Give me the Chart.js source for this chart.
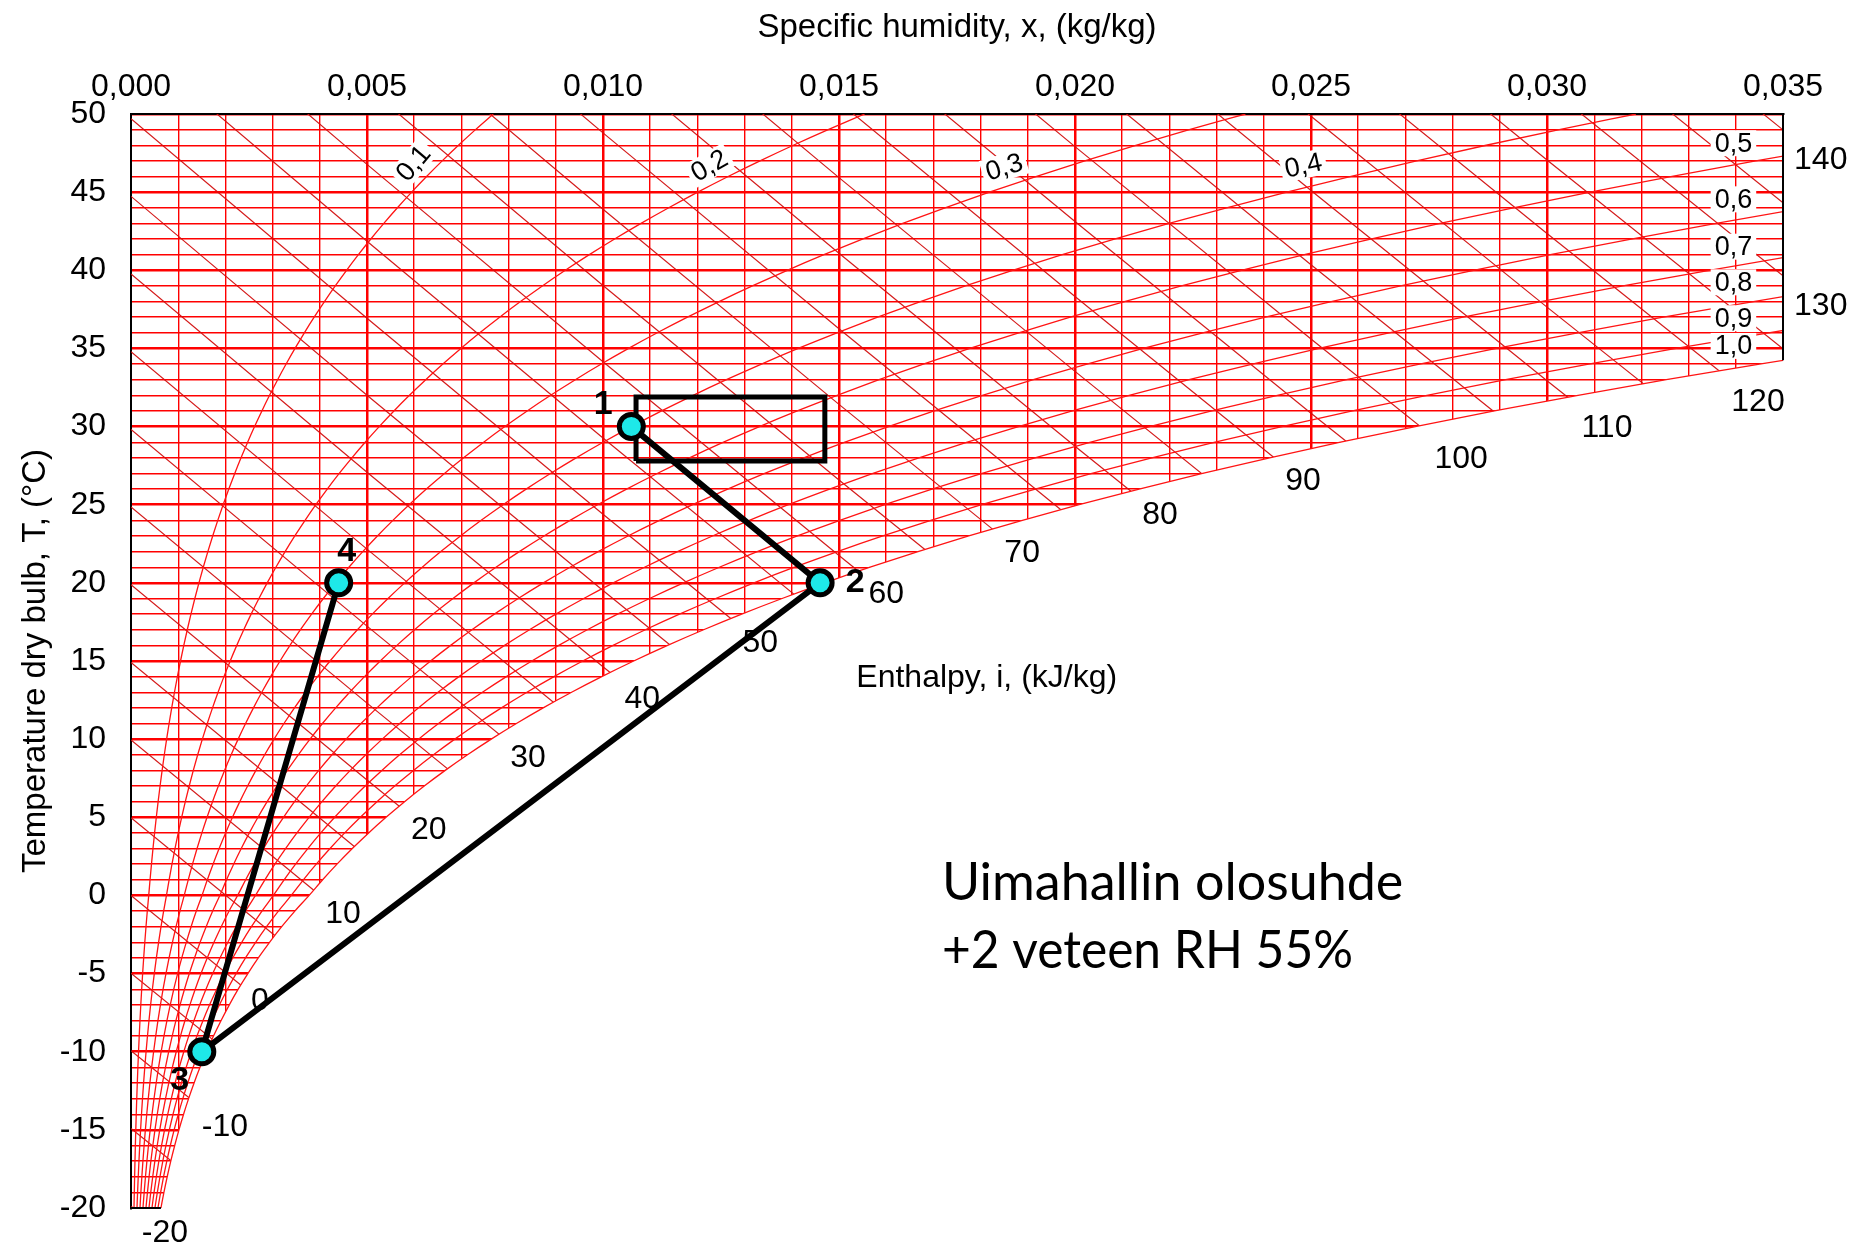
<!DOCTYPE html>
<html>
<head>
<meta charset="utf-8">
<title>Psykrometrinen kaavio</title>
<script src="https://cdn.jsdelivr.net/npm/chart.js@4.4.1/dist/chart.umd.min.js"></script>
<style>
  html, body { margin: 0; padding: 0; background: #fff; }
  #wrap { width: 1853px; height: 1253px; }
</style>
</head>
<body>
<div id="wrap"><canvas id="chart" width="1853" height="1253"></canvas></div>
<script>
// ---- Chart data -----------------------------------------------------------

// Saturation vapour pressure of water (kPa) from -20 °C to 50 °C in 1 °C steps
// (over ice below 0 °C).
const satStartT = -20;
const satPressure = [
  0.1032, 0.1135, 0.1248, 0.1371, 0.1506, 0.1652, 0.1811, 0.1984, 0.2172, 0.2376,
  0.2599, 0.2839, 0.3100, 0.3382, 0.3686, 0.4017, 0.4374, 0.4759, 0.5174, 0.5623,
  0.6112, 0.6571, 0.7060, 0.7581, 0.8135, 0.8726, 0.9354, 1.0021, 1.0730, 1.1482,
  1.2282, 1.3129, 1.4028, 1.4981, 1.5990, 1.7058, 1.8188, 1.9384, 2.0647, 2.1983,
  2.3393, 2.4882, 2.6453, 2.8111, 2.9858, 3.1699, 3.3639, 3.5681, 3.7831, 4.0092,
  4.2470, 4.4969, 4.7596, 5.0354, 5.3251, 5.6290, 5.9479, 6.2823, 6.6328, 7.0002,
  7.3849, 7.7878, 8.2096, 8.6508, 9.1124, 9.5950, 10.099, 10.627, 11.177, 11.752,
  12.352
];
const airPressure = 101.325; // kPa

// Relative humidity curves and their labels
const rhLevels = [0.1, 0.2, 0.3, 0.4, 0.5, 0.6, 0.7, 0.8, 0.9, 1.0];
const rhLabels = ['0,1', '0,2', '0,3', '0,4', '0,5', '0,6', '0,7', '0,8', '0,9', '1,0'];
const rhLabelX = [0.00598, 0.01225, 0.0185, 0.02484, 0.03395, 0.03395, 0.03395, 0.03395, 0.03395, 0.03395];
const rhLabelT = [46.85, 46.7, 46.6, 46.7, 48.13, 44.54, 41.51, 39.23, 36.93, 35.16];
const rhLabelAngle = [-50, -30, -17, -12, 0, 0, 0, 0, 0, 0];

// Constant enthalpy lines (kJ/kg) and their labels
const enthalpyLevels = [-20, -15, -10, -5, 0, 5, 10, 15, 20, 25, 30, 35, 40, 45, 50, 55, 60, 65,
  70, 75, 80, 85, 90, 95, 100, 105, 110, 115, 120, 125, 130, 135, 140];
const enthalpyLineX = [0, 0.005, 0.01, 0.015, 0.02, 0.025, 0.03, 0.035, 0.04];
const enthalpyLabels = [-20, -10, 0, 10, 20, 30, 40, 50, 60, 70, 80, 90, 100, 110, 120, 130, 140];
const enthalpyLabelX = [0.00072, 0.00199, 0.00273, 0.00449, 0.00631, 0.00841, 0.01083, 0.01333,
  0.0160, 0.01888, 0.0218, 0.02483, 0.02818, 0.03127, 0.03447, 0.0358, 0.0358];

// Air states of the process and the comfort zone
const stateNames = ['1', '2', '3', '4'];
const stateX = [0.0106, 0.0146, 0.0015, 0.0044];
const stateT = [30, 20, -10, 20];
const zoneX = [0.0107, 0.0147];
const zoneT = [27.8, 31.9];

// Note text
const noteLines = ['Uimahallin olosuhde', '+2 veteen RH 55%'];
const noteX = [0.01718, 0.02701, 0.02589]; // left edge, right edge of each line
const noteT = [-0.29, -4.64];              // baselines

// Axis ranges
const xRange = [0, 0.035];
const tRange = [-20, 50];

// ---- Psychrometric helpers ------------------------------------------------
const humidityRatio = pv => 0.622 * pv / (airPressure - pv);
const enthalpyTemp = (i, x) => (i - 2501 * x) / (1.006 + 1.86 * x);

const rhCurve = phi => satPressure.map((p, k) => ({ x: humidityRatio(phi * p), y: satStartT + k }));
const satCurve = rhCurve(1.0);

// temperature where the saturation curve meets a given humidity
function satTempAt(xv) {
  for (let k = 0; k < satCurve.length - 1; k++) {
    const a = satCurve[k], b = satCurve[k + 1];
    if (a.x <= xv && b.x >= xv) return a.y + (xv - a.x) / (b.x - a.x) * (b.y - a.y);
  }
  return tRange[1];
}

const FONT = '"Liberation Sans", Arial, Helvetica, sans-serif';
const RED = '#ff0000';

const datasets = [];

enthalpyLevels.forEach(i => {
  datasets.push({
    data: enthalpyLineX.map(x => ({ x, y: enthalpyTemp(i, x) })),
    borderColor: 'rgba(210,15,15,0.95)', borderWidth: 1.2, order: 50
  });
});

// white area under the saturation curve (fog region is left empty)
datasets.push({
  data: satCurve, borderWidth: 0, borderColor: 'rgba(0,0,0,0)',
  backgroundColor: '#ffffff', fill: 'start', cubicInterpolationMode: 'monotone', order: 40
});

rhLevels.forEach(phi => {
  datasets.push({
    data: rhCurve(phi), borderColor: 'rgba(255,20,20,1)', borderWidth: 1.3,
    cubicInterpolationMode: 'monotone', order: 30
  });
});

// closing edges of the chart frame
datasets.push({
  data: [{ x: xRange[0], y: tRange[0] }, { x: satCurve[0].x, y: tRange[0] }],
  borderColor: '#000', borderWidth: 2, clip: false, order: 20
});
datasets.push({
  data: [{ x: xRange[1], y: tRange[1] }, { x: xRange[1], y: satTempAt(xRange[1]) }],
  borderColor: '#000', borderWidth: 2, clip: false, order: 20
});

// comfort zone rectangle
datasets.push({
  data: [
    { x: zoneX[0], y: zoneT[0] }, { x: zoneX[1], y: zoneT[0] }, { x: zoneX[1], y: zoneT[1] },
    { x: zoneX[0], y: zoneT[1] }, { x: zoneX[0], y: zoneT[0] }
  ],
  borderColor: '#000', borderWidth: 5, borderJoinStyle: 'miter', order: 10
});

// process path 1 -> 2 -> 3 -> 4
datasets.push({
  data: stateX.map((x, k) => ({ x, y: stateT[k] })),
  borderColor: '#000', borderWidth: 6,
  pointRadius: 12, pointBackgroundColor: '#1ee8e8', pointBorderColor: '#000', pointBorderWidth: 5,
  order: 5
});

datasets.forEach(d => {
  d.showLine = true;
  if (d.pointRadius === undefined) d.pointRadius = 0;
  if (d.fill === undefined) d.fill = false;
});

const stateLabelOffset = [[-28, -22], [35, 0], [-22, 29], [8, -31]];

const overlay = {
  id: 'overlay',
  afterDatasetsDraw(chart) {
    const { ctx } = chart;
    const sx = chart.scales.x, sy = chart.scales.y;
    const px = v => sx.getPixelForValue(v);
    const py = v => sy.getPixelForValue(v);
    ctx.save();

    // relative humidity labels on white boxes
    ctx.font = '27px ' + FONT;
    ctx.textAlign = 'center';
    ctx.textBaseline = 'middle';
    rhLabels.forEach((t, k) => {
      ctx.save();
      ctx.translate(px(rhLabelX[k]), py(rhLabelT[k]));
      ctx.rotate(rhLabelAngle[k] * Math.PI / 180);
      const w = ctx.measureText(t).width;
      ctx.fillStyle = '#fff';
      ctx.fillRect(-w / 2 - 4, -13, w + 8, 26);
      ctx.fillStyle = '#000';
      ctx.fillText(t, 0, 1);
      ctx.restore();
    });

    // enthalpy labels along the extended enthalpy lines
    ctx.font = '32px ' + FONT;
    ctx.fillStyle = '#000';
    enthalpyLabels.forEach((i, k) => {
      const x = enthalpyLabelX[k];
      ctx.fillText(String(i), px(x), py(enthalpyTemp(i, x)));
    });
    ctx.fillText('Enthalpy, i, (kJ/kg)', px(0.01813), py(13.92));

    // state point numbers
    ctx.font = 'bold 34px ' + FONT;
    stateNames.forEach((n, k) => {
      ctx.fillText(n, px(stateX[k]) + stateLabelOffset[k][0], py(stateT[k]) + stateLabelOffset[k][1]);
    });

    // note
    ctx.font = '52px Lato, "Open Sans", sans-serif';
    ctx.textAlign = 'left';
    ctx.textBaseline = 'alphabetic';
    noteLines.forEach((t, k) => {
      ctx.fillText(t, px(noteX[0]), py(noteT[k]), px(noteX[k + 1]) - px(noteX[0]));
    });
    ctx.restore();
  }
};

const isMultiple = (v, step, unit) => Math.abs(Math.round(v / unit) % step) === 0;

new Chart(document.getElementById('chart'), {
  type: 'scatter',
  data: { datasets },
  plugins: [overlay],
  options: {
    responsive: false,
    animation: false,
    devicePixelRatio: 1,
    events: [],
    layout: { padding: { left: 0, top: 0, right: 70, bottom: 45 } },
    plugins: { legend: { display: false }, tooltip: { enabled: false } },
    scales: {
      x: {
        type: 'linear', position: 'top', min: xRange[0], max: xRange[1],
        afterFit: s => { s.height = 114; },
        ticks: {
          stepSize: 0.001, maxTicksLimit: 200, autoSkip: false, maxRotation: 0, minRotation: 0,
          padding: 8, color: '#000', font: { family: FONT, size: 32 },
          callback: v => isMultiple(v, 5, 0.001) ? v.toFixed(3).replace('.', ',') : ''
        },
        grid: {
          drawTicks: false,
          color: c => {
            const m = Math.round(c.tick.value * 1000);
            return (m === 0 || m === 35) ? 'rgba(0,0,0,0)' : RED;
          },
          lineWidth: c => isMultiple(c.tick.value, 5, 0.001) ? 2.5 : 1.4
        },
        border: { display: true, color: '#000', width: 2 },
        title: {
          display: true, text: 'Specific humidity, x, (kg/kg)', color: '#000',
          font: { family: FONT, size: 33 }, padding: { top: 8, bottom: 0 }
        }
      },
      y: {
        type: 'linear', position: 'left', min: tRange[0], max: tRange[1],
        afterFit: s => { s.width = 131; },
        ticks: {
          stepSize: 1, maxTicksLimit: 200, autoSkip: false,
          padding: 25, color: '#000', font: { family: FONT, size: 32 },
          callback: v => (Math.round(v) % 5 === 0) ? String(v) : ''
        },
        grid: {
          drawTicks: false,
          color: c => (Math.round(c.tick.value) === tRange[0]) ? 'rgba(0,0,0,0)' : RED,
          lineWidth: c => (Math.round(c.tick.value) % 5 === 0) ? 2.5 : 1.4
        },
        border: { display: true, color: '#000', width: 2 },
        title: {
          display: true, text: 'Temperature dry bulb, T, (°C)', color: '#000',
          font: { family: FONT, size: 33 }, padding: { top: 16, bottom: 0 }
        }
      }
    }
  }
});
</script>
</body>
</html>
